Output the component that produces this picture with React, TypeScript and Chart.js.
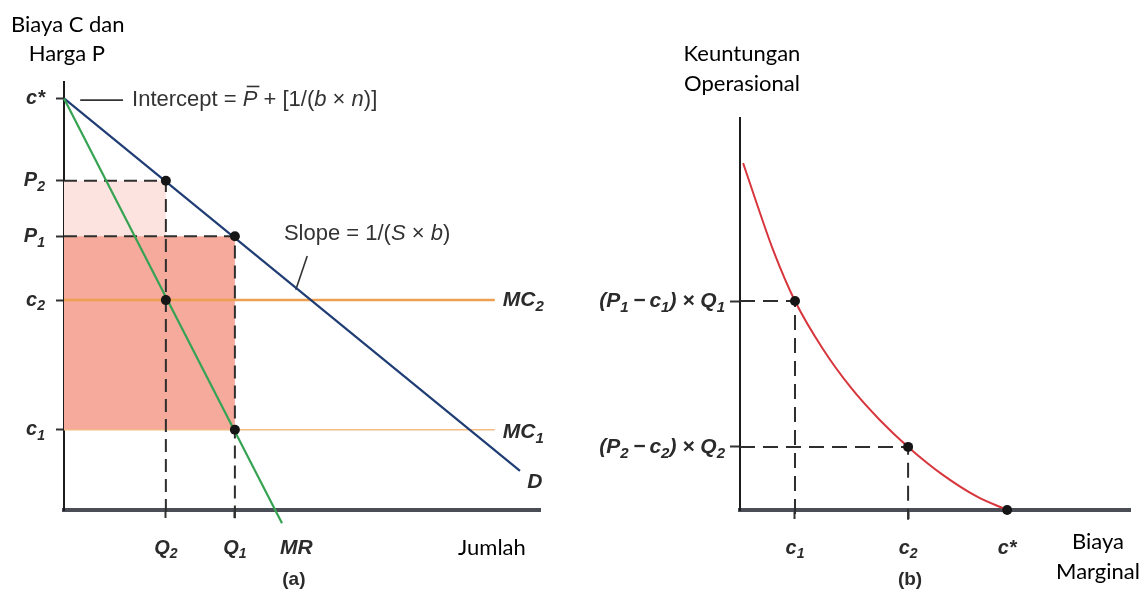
import React, { useEffect, useRef } from 'react';
import { Chart, registerables } from 'chart.js';
Chart.register(...registerables);

// ---------- Panel (a) values ----------
const cStar = 100;
const priceP2 = 80;
const priceP1 = 66.5;
const costC2 = 51;
const costC1 = 19.5;
const qtyQ2 = 21.4;
const qtyQ1 = 35.9;
const demandX = [0, 95.8];
const demandY = [100, 9.5];
const mrX = [0, 45.8];
const mrY = [100, -3.2];
const mcEndX = 90.5;
const belowAxisA = -2.0;
const interceptLeaderX = [3.4, 12.4];
const interceptLeaderY = [99.6, 99.6];
const slopeLeaderX = [51.1, 48.7];
const slopeLeaderY = [61.7, 53.5];

const yTicksA = [costC1, costC2, priceP1, priceP2, cStar];
const yTickLabelsA = ['c_1', 'c_2', 'P_1', 'P_2', 'c*'];
const xTicksA = [qtyQ2, qtyQ1];
const xTickLabelsA = ['Q_2', 'Q_1'];

// ---------- Panel (b) values ----------
const curveX = [0.8, 4.6, 8.5, 14.1, 21.3, 28.6, 35.9, 43.1, 52.1, 60.8, 68.5];
const curveY = [88.5, 77.3, 66.3, 53.3, 41.0, 31.0, 22.9, 16.1, 8.9, 3.4, 0];
const costB1 = 14.1;
const costB2 = 43.1;
const costBStar = 68.5;
const profit1 = 53.3;
const profit2 = 16.1;
const belowAxisB = -2.5;

const yTicksB = [profit2, profit1];
const yTickLabelsB = ['(P_2\u2009−\u2009c_2) × Q_2', '(P_1\u2009−\u2009c_1) × Q_1'];
const xTicksB = [costB1, costB2, costBStar];
const xTickLabelsB = ['c_1', 'c_2', 'c*'];

// ---------- text notes ----------
type Part = { t: string; it?: boolean; sub?: boolean; bar?: boolean };
type Note = { x: number; y: number; parts: Part[]; align: 'left' | 'center' | 'right'; style: string };
type Style = { size: number; family: string; weight: string; italic: boolean; color: string };

const STYLES: Record<string, Style> = {
  cal: { size: 22, family: 'Lato, "Open Sans", sans-serif', weight: 'normal', italic: false, color: '#000000' },
  formula: { size: 22, family: '"Liberation Sans", Arial, sans-serif', weight: 'normal', italic: false, color: '#333333' },
  label: { size: 21, family: '"Liberation Sans", Arial, sans-serif', weight: 'bold', italic: true, color: '#2b2b2b' },
  tick: { size: 20, family: '"Liberation Sans", Arial, sans-serif', weight: 'bold', italic: true, color: '#2b2b2b' },
  tickWide: { size: 21, family: '"Liberation Sans", Arial, sans-serif', weight: 'bold', italic: true, color: '#2b2b2b' },
  tag: { size: 19, family: '"Liberation Sans", Arial, sans-serif', weight: 'bold', italic: false, color: '#2b2b2b' },
};

const notesA: Note[] = [
  { x: 0.8, y: 117.9, parts: [{ t: 'Biaya C dan' }], align: 'center', style: 'cal' },
  { x: 0.6, y: 110.8, parts: [{ t: 'Harga P' }], align: 'center', style: 'cal' },
  {
    x: 14.3, y: 99.6, align: 'left', style: 'formula',
    parts: [{ t: 'Intercept = ' }, { t: 'P', it: true, bar: true }, { t: ' + [1/(' }, { t: 'b', it: true }, { t: ' × ' }, { t: 'n', it: true }, { t: ')]' }],
  },
  {
    x: 46.2, y: 67.1, align: 'left', style: 'formula',
    parts: [{ t: 'Slope = 1/(' }, { t: 'S', it: true }, { t: ' × ' }, { t: 'b', it: true }, { t: ')' }],
  },
  { x: 92.2, y: costC2, parts: [{ t: 'MC' }, { t: '2', sub: true }], align: 'left', style: 'label' },
  { x: 92.2, y: costC1 - 0.6, parts: [{ t: 'MC' }, { t: '1', sub: true }], align: 'left', style: 'label' },
  { x: 97.3, y: 6.8, parts: [{ t: 'D' }], align: 'left', style: 'label' },
  { x: 48.8, y: -9.2, parts: [{ t: 'MR' }], align: 'center', style: 'label' },
  { x: 89.9, y: -9.2, parts: [{ t: 'Jumlah' }], align: 'center', style: 'cal' },
  { x: 48.3, y: -17.0, parts: [{ t: '(a)' }], align: 'center', style: 'tag' },
];

const notesB: Note[] = [
  { x: 0.5, y: 116.3, parts: [{ t: 'Keuntungan' }], align: 'center', style: 'cal' },
  { x: 0.5, y: 108.7, parts: [{ t: 'Operasional' }], align: 'center', style: 'cal' },
  { x: 91.8, y: -8.2, parts: [{ t: 'Biaya' }], align: 'center', style: 'cal' },
  { x: 91.8, y: -15.8, parts: [{ t: 'Marginal' }], align: 'center', style: 'cal' },
  { x: 43.6, y: -17.9, parts: [{ t: '(b)' }], align: 'center', style: 'tag' },
];

// "P_2" -> [P][sub 2]
const parseLabel = (s: string): Part[] => {
  const out: Part[] = [];
  const re = /_(\w)/g;
  let last = 0;
  let m: RegExpExecArray | null;
  while ((m = re.exec(s))) {
    if (m.index > last) out.push({ t: s.slice(last, m.index) });
    out.push({ t: m[1], sub: true });
    last = m.index + m[0].length;
  }
  if (last < s.length) out.push({ t: s.slice(last) });
  return out;
};

const drawParts = (ctx: CanvasRenderingContext2D, parts: Part[], st: Style, px: number, py: number, align: string) => {
  const fontFor = (p: Part) =>
    `${st.italic || p.it ? 'italic ' : ''}${st.weight} ${p.sub ? Math.round(st.size * 0.72) : st.size}px ${st.family}`;
  let total = 0;
  const widths = parts.map((p) => {
    ctx.font = fontFor(p);
    const w = ctx.measureText(p.t).width;
    total += w;
    return w;
  });
  let cx = align === 'left' ? px : align === 'right' ? px - total : px - total / 2;
  ctx.fillStyle = st.color;
  ctx.strokeStyle = st.color;
  parts.forEach((p, i) => {
    ctx.font = fontFor(p);
    ctx.fillText(p.t, cx, py + (p.sub ? st.size * 0.32 : 0));
    if (p.bar) {
      ctx.lineWidth = 1.6;
      ctx.beginPath();
      ctx.moveTo(cx + 4, py - st.size * 0.62);
      ctx.lineTo(cx + widths[i] + 2, py - st.size * 0.62);
      ctx.stroke();
    }
    cx += widths[i];
  });
};

const makeNotesPlugin = (
  notes: Note[],
  xLabels: string[],
  yLabels: string[],
  yLabelGap: number,
  xLabelDrop: number,
  yStyle: string,
) => ({
  id: 'notes',
  afterDraw(chart: any) {
    const ctx: CanvasRenderingContext2D = chart.ctx;
    const xs = chart.scales.x;
    const ys = chart.scales.y;
    ctx.save();
    ctx.textBaseline = 'middle';
    ctx.textAlign = 'left';
    // tick labels placed through the scales
    xs.ticks.forEach((tk: any, i: number) => {
      drawParts(ctx, parseLabel(xLabels[i]), STYLES.tick, xs.getPixelForValue(tk.value), chart.chartArea.bottom + xLabelDrop, 'center');
    });
    ys.ticks.forEach((tk: any, i: number) => {
      drawParts(ctx, parseLabel(yLabels[i]), STYLES[yStyle], chart.chartArea.left - yLabelGap, ys.getPixelForValue(tk.value), 'right');
    });
    for (const n of notes) {
      drawParts(ctx, n.parts, STYLES[n.style], xs.getPixelForValue(n.x), ys.getPixelForValue(n.y), n.align);
    }
    ctx.restore();
  },
});

const pts = (xs: number[], ys: number[]) => xs.map((x, i) => ({ x, y: ys[i] }));

const line = (data: any[], color: string, width: number, dash: number[] = [], extra: any = {}) => ({
  data,
  showLine: true,
  borderColor: color,
  borderWidth: width,
  borderDash: dash,
  pointRadius: 0,
  fill: false,
  clip: false,
  ...extra,
});

function configA(): any {
  return {
    type: 'scatter',
    data: {
      datasets: [
        {
          data: [
            { x: qtyQ2, y: priceP2 },
            { x: qtyQ1, y: priceP1 },
            { x: qtyQ2, y: costC2 },
            { x: qtyQ1, y: costC1 },
          ],
          pointRadius: 5,
          pointBackgroundColor: '#161616',
          pointBorderWidth: 0,
          showLine: false,
          clip: false,
        },
        line(pts(mrX, mrY), '#35a352', 2.2),
        line(pts(demandX, demandY), '#1f3d74', 2.2),
        line([{ x: 0, y: priceP2 }, { x: qtyQ2, y: priceP2 }, { x: qtyQ2, y: belowAxisA }], '#2e2e2e', 2, [13, 7]),
        line([{ x: 0, y: priceP1 }, { x: qtyQ1, y: priceP1 }, { x: qtyQ1, y: belowAxisA }], '#2e2e2e', 2, [13, 7]),
        line([{ x: 0, y: costC2 }, { x: mcEndX, y: costC2 }], '#eda04f', 2.5),
        line([{ x: 0, y: costC1 }, { x: mcEndX, y: costC1 }], '#f4bc84', 1.6),
        line(pts(interceptLeaderX, interceptLeaderY), '#333333', 1.6),
        line(pts(slopeLeaderX, slopeLeaderY), '#333333', 1.6),
        line([{ x: 0, y: priceP1 }, { x: qtyQ1, y: priceP1 }], 'rgba(0,0,0,0)', 0, [], {
          fill: { value: costC1 },
          backgroundColor: '#f6aa9c',
        }),
        line([{ x: 0, y: priceP2 }, { x: qtyQ2, y: priceP2 }], 'rgba(0,0,0,0)', 0, [], {
          fill: { value: costC2 },
          backgroundColor: '#fde3df',
        }),
      ],
    },
    options: {
      animation: false,
      responsive: false,
      devicePixelRatio: 1,
      events: [],
      layout: { padding: { top: 82, right: 34, bottom: 0, left: 0 } },
      plugins: { legend: { display: false }, tooltip: { enabled: false }, title: { display: false } },
      scales: {
        x: {
          type: 'linear',
          min: 0,
          max: 100,
          afterFit: (s: any) => { s.height = 84; },
          afterBuildTicks: (s: any) => { s.ticks = xTicksA.map((v) => ({ value: v })); },
          ticks: { display: false, autoSkip: false },
          grid: { display: true, drawOnChartArea: false, drawTicks: true, tickLength: 8, tickWidth: 2, tickColor: '#333333' },
          border: { display: true, color: '#4a4d55', width: 4 },
        },
        y: {
          type: 'linear',
          min: 0,
          max: 104,
          afterFit: (s: any) => { s.width = 64; },
          afterBuildTicks: (s: any) => { s.ticks = yTicksA.map((v) => ({ value: v })); },
          ticks: { display: false, autoSkip: false },
          grid: { display: true, drawOnChartArea: false, drawTicks: true, tickLength: 8, tickWidth: 2, tickColor: '#333333' },
          border: { display: true, color: '#1c1c1c', width: 2 },
        },
      },
    },
    plugins: [makeNotesPlugin(notesA, xTickLabelsA, yTickLabelsA, 19, 38, 'tick')],
  };
}

function configB(): any {
  return {
    type: 'scatter',
    data: {
      datasets: [
        {
          data: [
            { x: costB1, y: profit1 },
            { x: costB2, y: profit2 },
            { x: costBStar, y: 0 },
          ],
          pointRadius: 5,
          pointBackgroundColor: '#161616',
          pointBorderWidth: 0,
          showLine: false,
          clip: false,
        },
        line(pts(curveX, curveY), '#d8363d', 2, [], { cubicInterpolationMode: 'monotone' }),
        line([{ x: 0, y: profit1 }, { x: costB1, y: profit1 }, { x: costB1, y: belowAxisB }], '#2e2e2e', 2, [15, 8]),
        line([{ x: 0, y: profit2 }, { x: costB2, y: profit2 }, { x: costB2, y: belowAxisB }], '#2e2e2e', 2, [15, 8]),
      ],
    },
    options: {
      animation: false,
      responsive: false,
      devicePixelRatio: 1,
      events: [],
      layout: { padding: { top: 118, right: 18, bottom: 0, left: 0 } },
      plugins: { legend: { display: false }, tooltip: { enabled: false }, title: { display: false } },
      scales: {
        x: {
          type: 'linear',
          min: 0,
          max: 100,
          afterFit: (s: any) => { s.height = 84; },
          afterBuildTicks: (s: any) => { s.ticks = xTicksB.map((v) => ({ value: v })); },
          ticks: { display: false, autoSkip: false },
          grid: {
            display: true,
            drawOnChartArea: false,
            drawTicks: true,
            tickLength: 9,
            tickWidth: 2,
            tickColor: (c: any) => (c.tick && c.tick.value === costBStar ? 'rgba(0,0,0,0)' : '#333333'),
          },
          border: { display: true, color: '#4a4d55', width: 4 },
        },
        y: {
          type: 'linear',
          min: 0,
          max: 100,
          afterFit: (s: any) => { s.width = 166; },
          afterBuildTicks: (s: any) => { s.ticks = yTicksB.map((v) => ({ value: v })); },
          ticks: { display: false, autoSkip: false },
          grid: { display: true, drawOnChartArea: false, drawTicks: true, tickLength: 10, tickWidth: 2, tickColor: '#333333' },
          border: { display: true, color: '#1c1c1c', width: 2 },
        },
      },
    },
    plugins: [makeNotesPlugin(notesB, xTickLabelsB, yTickLabelsB, 15, 38, 'tickWide')],
  };
}

export default function App() {
  const refA = useRef<HTMLCanvasElement>(null);
  const refB = useRef<HTMLCanvasElement>(null);
  useEffect(() => {
    document.body.style.margin = '0';
    const a = new Chart(refA.current as HTMLCanvasElement, configA());
    const b = new Chart(refB.current as HTMLCanvasElement, configB());
    return () => {
      a.destroy();
      b.destroy();
    };
  }, []);
  return (
    <div style={{ display: 'flex', width: 1148, height: 594, background: '#ffffff' }}>
      <canvas ref={refA} width={574} height={594} style={{ display: 'block', width: 574, height: 594 }} />
      <canvas ref={refB} width={574} height={594} style={{ display: 'block', width: 574, height: 594 }} />
    </div>
  );
}
